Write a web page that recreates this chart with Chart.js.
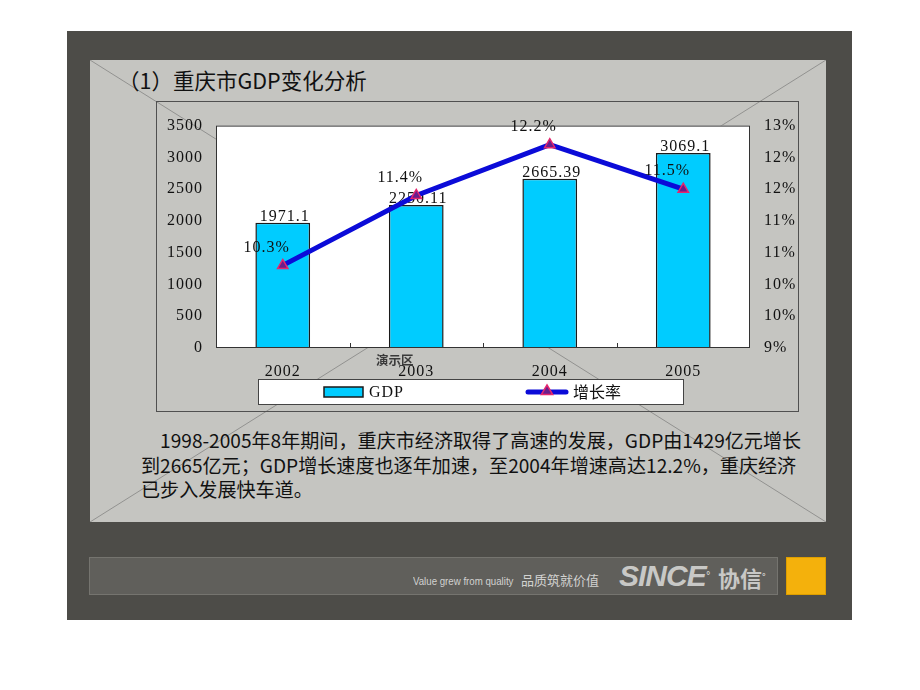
<!DOCTYPE html>
<html>
<head>
<meta charset="utf-8">
<script src="https://cdn.jsdelivr.net/npm/chart.js@4"></script>
<style>
body{margin:0;background:#fff;width:920px;height:690px;position:relative;overflow:hidden;font-family:"Noto Sans CJK SC",sans-serif}
.abs{position:absolute}
#frame{left:67px;top:31px;width:785px;height:589px;background:#4d4c48}
#panel{left:90px;top:60px;width:736px;height:462px;background:#c5c5c1}
#title{left:118px;top:65px;font-size:21.5px;line-height:30px;color:#111;white-space:nowrap}
#box{left:156px;top:101px;width:641px;height:309px;border:1px solid #505050}
#mark{left:376px;top:352px;font-size:12.5px;font-weight:bold;color:#3a3a3a;line-height:16px}
#para{left:141px;top:428px;font-size:19.1px;line-height:24.5px;color:#111;white-space:nowrap}
#bar{left:89px;top:557px;width:689px;height:38px;background:#605f5b;border:1px solid #75746f;box-sizing:border-box}
#slogan{left:413px;top:574px;font-family:"Liberation Sans",sans-serif;font-size:11px;color:#d2d2d0;line-height:14px;white-space:nowrap;transform:scaleX(0.88);transform-origin:left top}
#slogan2{left:521px;top:571px;font-size:13px;color:#d2d2d0;line-height:18px}
#logo{left:619px;top:561px;font-family:"Liberation Sans",sans-serif;font-size:30px;font-weight:bold;font-style:italic;color:#c8c8c6;line-height:30px;letter-spacing:-1px}
#logo2{left:718px;top:562px;font-size:22px;font-weight:bold;color:#c8c8c6;line-height:30px}
#orange{left:786px;top:557px;width:40px;height:38px;background:#f4b10c;border:1px solid #dd9e00;box-sizing:border-box}
</style>
</head>
<body>
<div id="frame" class="abs"></div>
<div id="panel" class="abs"></div>
<svg class="abs" style="left:90px;top:60px" width="736" height="462">
  <line x1="0" y1="0" x2="736" y2="462" stroke="#929290" stroke-width="1"/>
  <line x1="736" y1="0" x2="0" y2="462" stroke="#929290" stroke-width="1"/>
</svg>
<div id="title" class="abs">（1）重庆市GDP变化分析</div>
<div id="box" class="abs"><canvas id="gdpChart" width="641" height="309"></canvas></div>
<div id="mark" class="abs">演示区</div>
<div id="para" class="abs">&emsp;1998-2005年8年期间，重庆市经济取得了高速的发展，GDP由1429亿元增长<br>到2665亿元；GDP增长速度也逐年加速，至2004年增速高达12.2%，重庆经济<br>已步入发展快车道。</div>
<div id="bar" class="abs"></div>
<div id="slogan" class="abs">Value grew from quality</div>
<div id="slogan2" class="abs">品质筑就价值</div>
<div id="logo" class="abs">SINCE<span style="font-size:10px;vertical-align:top">°</span></div>
<div id="logo2" class="abs">协信<span style="font-size:9px;vertical-align:top">°</span></div>
<div id="orange" class="abs"></div>
<script>
const years = ['2002', '2003', '2004', '2005']
const gdp = [1971.1, 2250.11, 2665.39, 3069.1]
const growth = [10.3, 11.4, 12.2, 11.5]
const gdpAxis = [0, 3500, 500]
const rateAxis = [9, 12.5, 0.5]
const seriesNames = ['GDP', '增长率']

const serif = { family: '"Liberation Serif", serif', size: 16 }
const labelFont = '16px "Liberation Serif", serif'

function triangle(ctx, x, y, r) {
  ctx.beginPath()
  ctx.moveTo(x, y - r)
  ctx.lineTo(x + r * 0.95, y + r * 0.6)
  ctx.lineTo(x - r * 0.95, y + r * 0.6)
  ctx.closePath()
  ctx.fill()
  ctx.stroke()
}

const plotFrame = {
  id: 'plotFrame',
  beforeDraw(chart) {
    const { ctx, chartArea: a } = chart
    ctx.letterSpacing = '1px'
    ctx.save()
    ctx.fillStyle = '#fff'
    ctx.fillRect(a.left, a.top, a.width, a.height)
    ctx.restore()
  },
  afterDatasetDraw(chart, args) {
    // bar values go under the line
    if (args.index !== 1) return
    const ctx = chart.ctx
    ctx.save()
    ctx.font = labelFont
    ctx.fillStyle = '#111'
    ctx.textAlign = 'center'
    args.meta.data.forEach((bar, i) => ctx.fillText(String(gdp[i]), bar.x + 2, bar.y - 2))
    ctx.restore()
  },
  afterDatasetsDraw(chart) {
    const { ctx, chartArea: a } = chart
    const x = chart.scales.x
    ctx.save()
    ctx.strokeStyle = '#333'
    ctx.lineWidth = 1
    ctx.strokeRect(a.left + 0.5, a.top + 0.5, a.width - 1, a.height - 1)
    const half = (x.getPixelForValue(1) - x.getPixelForValue(0)) / 2
    ctx.beginPath()
    for (let i = 0; i < years.length - 1; i++) {
      const px = Math.round(x.getPixelForValue(i) + half) + 0.5
      ctx.moveTo(px, a.bottom - 5)
      ctx.lineTo(px, a.bottom)
    }
    ctx.stroke()
    ctx.font = labelFont
    ctx.fillStyle = '#111'
    ctx.textAlign = 'center'
    ctx.textBaseline = 'middle'
    chart.getDatasetMeta(0).data.forEach((pt, i) => ctx.fillText(growth[i].toFixed(1) + '%', pt.x - 16, pt.y - 18))
    ctx.restore()
  },
  afterDraw(chart) {
    const ctx = chart.ctx
    const [line, bar] = chart.data.datasets
    const bx = 101, by = 277, bw = 426, bh = 26, cy = by + bh / 2
    ctx.save()
    ctx.fillStyle = '#fff'
    ctx.strokeStyle = '#444'
    ctx.lineWidth = 1
    ctx.fillRect(bx, by, bw, bh)
    ctx.strokeRect(bx + 0.5, by + 0.5, bw - 1, bh - 1)

    ctx.fillStyle = bar.backgroundColor
    ctx.strokeStyle = bar.borderColor
    ctx.lineWidth = 1.5
    ctx.fillRect(167, cy - 5, 39, 10)
    ctx.strokeRect(167, cy - 5, 39, 10)
    ctx.font = labelFont
    ctx.fillStyle = '#111'
    ctx.textBaseline = 'middle'
    ctx.fillText(bar.label, 212, cy + 1)

    ctx.strokeStyle = line.borderColor
    ctx.lineWidth = line.borderWidth
    ctx.lineCap = 'round'
    ctx.beginPath()
    ctx.moveTo(371, cy)
    ctx.lineTo(409, cy)
    ctx.stroke()
    ctx.fillStyle = line.pointBackgroundColor
    ctx.strokeStyle = line.pointBorderColor
    ctx.lineWidth = line.pointBorderWidth
    triangle(ctx, 390, cy - 1, 6)
    ctx.letterSpacing = '0px'
    ctx.font = '16px "Noto Sans CJK SC", sans-serif'
    ctx.fillStyle = '#111'
    ctx.fillText(line.label, 416, cy)
    ctx.restore()
  }
}

const gdpChart = new Chart(document.getElementById('gdpChart'), {
  type: 'bar',
  data: {
    labels: years,
    datasets: [
      {
        type: 'line',
        label: seriesNames[1],
        data: growth,
        yAxisID: 'rate',
        order: 0,
        borderColor: '#0b0bd8',
        borderWidth: 5,
        pointStyle: 'triangle',
        pointRadius: 6,
        pointBackgroundColor: '#6a1e8c',
        pointBorderColor: '#e4276f',
        pointBorderWidth: 1.5,
        tension: 0
      },
      {
        label: seriesNames[0],
        data: gdp,
        yAxisID: 'gdp',
        order: 1,
        backgroundColor: '#00ccff',
        borderColor: '#1a1a1a',
        borderWidth: 1.5,
        categoryPercentage: 1,
        barPercentage: 0.41
      }
    ]
  },
  options: {
    responsive: false,
    animation: false,
    layout: { padding: { top: 21, bottom: 31, left: 0, right: 0 } },
    plugins: { legend: { display: false }, tooltip: { enabled: false } },
    scales: {
      x: {
        grid: { display: false, drawTicks: false },
        border: { display: false },
        ticks: { font: serif, color: '#111', padding: 14 },
        afterFit: s => { s.height = 32 }
      },
      gdp: {
        position: 'left',
        min: gdpAxis[0],
        max: gdpAxis[1],
        grid: { display: false, drawTicks: false },
        border: { display: false },
        ticks: { stepSize: gdpAxis[2], font: serif, color: '#111', padding: 13, callback: v => String(v) },
        afterFit: s => { s.width = 59 }
      },
      rate: {
        position: 'right',
        min: rateAxis[0],
        max: rateAxis[1],
        grid: { display: false, drawTicks: false },
        border: { display: false },
        ticks: { stepSize: rateAxis[2], font: serif, color: '#111', padding: 14, callback: v => Math.round(v) + '%' },
        afterFit: s => { s.width = 48 }
      }
    }
  },
  plugins: [plotFrame]
})
</script>
</body>
</html>
